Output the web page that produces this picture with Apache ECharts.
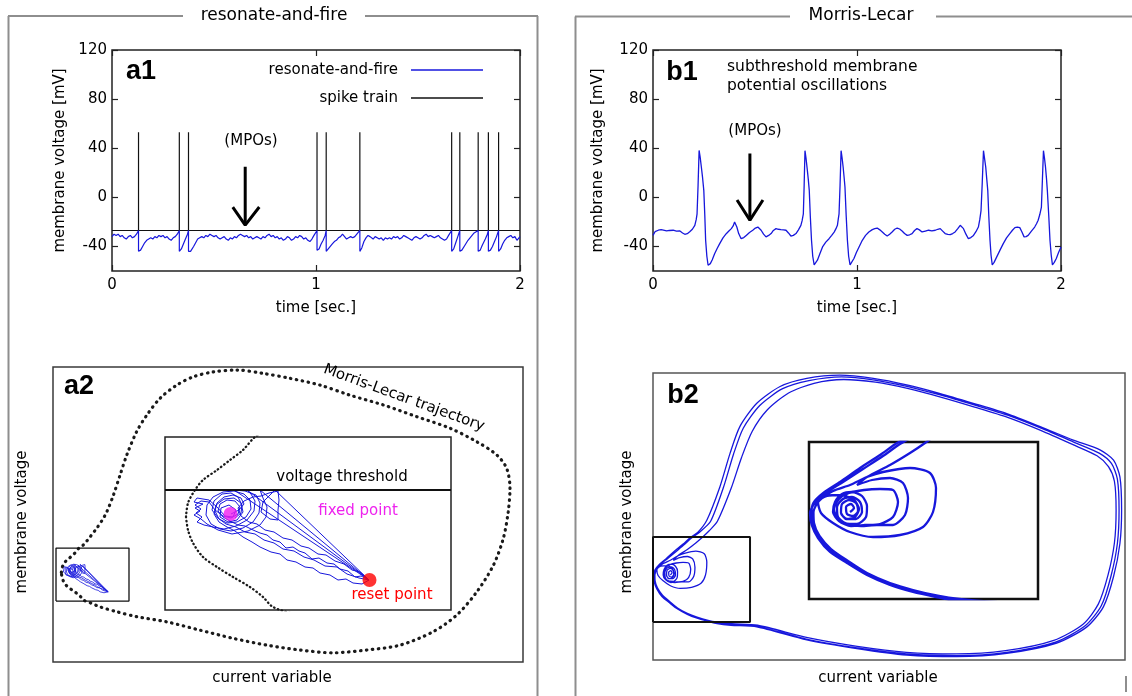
<!DOCTYPE html>
<html>
<head>
<meta charset="utf-8">
<script src="https://cdn.jsdelivr.net/npm/echarts@6/dist/echarts.min.js"></script>
<style>
  html, body { margin: 0; padding: 0; background: #fff; }
  #chart { width: 1132px; height: 696px; }
</style>
</head>
<body>
<div id="chart"></div>
<script>
// ---------- a1: resonate-and-fire voltage and its spike train ----------
const timeTicks = [0, 1, 2];
const voltTicks = [-40, 0, 40, 80, 120];
const spikeTimes = [0.13, 0.33, 0.375, 1.005, 1.05, 1.215, 1.665, 1.705, 1.795, 1.845, 1.895];
const spikeBase = -27;
const spikePeak = 53;
const rfVoltage = [
  [0.00,-32],[0.01,-30],[0.02,-31],[0.03,-30],[0.04,-32],[0.05,-31],[0.06,-33],[0.07,-34],[0.08,-32],[0.09,-31],[0.10,-33],[0.11,-32],[0.12,-30],[0.13,-27],
  [0.13,-44],[0.14,-43],[0.15,-40],[0.16,-37],[0.17,-35],[0.18,-34],[0.19,-33],[0.20,-34],[0.21,-32],[0.22,-33],[0.23,-31],[0.24,-32],[0.25,-31],[0.26,-33],[0.27,-32],[0.28,-34],[0.29,-35],[0.30,-33],[0.31,-32],[0.32,-30],[0.33,-27],
  [0.33,-44],[0.34,-42],[0.35,-38],[0.36,-34],[0.37,-30],[0.375,-27],
  [0.375,-44],[0.385,-44],[0.40,-40],[0.41,-37],[0.42,-34],[0.43,-33],[0.44,-32],[0.45,-33],[0.46,-31],[0.47,-32],[0.48,-30],[0.49,-31],[0.50,-32],[0.51,-31],[0.52,-33],[0.53,-34],[0.54,-33],[0.55,-32],[0.56,-34],[0.57,-35],[0.58,-33],[0.59,-34],[0.60,-32],[0.61,-33],[0.62,-31],[0.63,-30],[0.64,-31],[0.65,-32],[0.66,-31],[0.67,-33],[0.68,-32],[0.69,-34],[0.70,-33],[0.71,-32],[0.72,-33],[0.73,-34],[0.74,-32],[0.75,-33],[0.76,-31],[0.77,-30],[0.78,-32],[0.79,-31],[0.80,-33],[0.81,-32],[0.82,-34],[0.83,-33],[0.84,-35],[0.85,-34],[0.86,-32],[0.87,-33],[0.88,-35],[0.89,-34],[0.90,-32],[0.91,-33],[0.92,-31],[0.93,-32],[0.94,-34],[0.95,-33],[0.96,-35],[0.97,-36],[0.98,-34],[0.99,-31],[1.005,-27],
  [1.005,-43],[1.015,-42],[1.025,-38],[1.035,-35],[1.045,-31],[1.05,-27],
  [1.05,-44],[1.06,-42],[1.07,-40],[1.08,-38],[1.09,-36],[1.10,-35],[1.11,-33],[1.12,-32],[1.13,-30],[1.14,-32],[1.15,-34],[1.16,-33],[1.17,-32],[1.18,-33],[1.19,-32],[1.20,-30],[1.215,-27],
  [1.215,-44],[1.225,-41],[1.235,-36],[1.245,-33],[1.255,-31],[1.265,-32],[1.28,-34],[1.29,-32],[1.30,-33],[1.31,-34],[1.32,-33],[1.33,-35],[1.34,-33],[1.35,-34],[1.36,-33],[1.37,-34],[1.38,-32],[1.39,-33],[1.40,-32],[1.41,-34],[1.42,-33],[1.43,-31],[1.44,-32],[1.45,-33],[1.46,-34],[1.47,-35],[1.48,-33],[1.49,-32],[1.50,-33],[1.51,-34],[1.52,-33],[1.53,-31],[1.54,-30],[1.55,-32],[1.56,-31],[1.57,-32],[1.58,-33],[1.59,-32],[1.60,-31],[1.61,-33],[1.62,-34],[1.63,-35],[1.64,-34],[1.65,-31],[1.665,-27],
  [1.665,-44],[1.675,-42],[1.685,-37],[1.695,-32],[1.705,-27],
  [1.705,-44],[1.715,-43],[1.73,-39],[1.745,-35],[1.76,-32],[1.775,-29],[1.785,-28],[1.795,-27],
  [1.795,-44],[1.805,-43],[1.815,-39],[1.83,-34],[1.84,-30],[1.845,-27],
  [1.845,-44],[1.855,-43],[1.865,-40],[1.875,-36],[1.885,-32],[1.895,-27],
  [1.895,-44],[1.905,-42],[1.915,-38],[1.925,-35],[1.935,-33],[1.945,-32],[1.955,-31],[1.965,-33],[1.975,-32],[1.985,-35],[1.995,-33],[2.0,-32]
];

// ---------- b1: Morris-Lecar voltage ----------
const mlVoltage = [
  [0.0,-31],[0.01,-28],[0.026,-26.8],[0.04,-26.3],[0.067,-27.4],[0.08,-27],[0.099,-26.8],[0.115,-27.5],[0.132,-27.4],[0.145,-29],[0.156,-30.1],[0.168,-29.6],[0.18,-28],[0.193,-26],[0.205,-22.8],[0.212,-18],[0.216,-13.4],[0.221,10],[0.226,38.2],[0.231,33],[0.237,24.7],[0.243,16],[0.249,5.7],[0.254,-15],[0.258,-35],[0.264,-48],[0.27,-55.3],[0.275,-55.5],[0.281,-54],[0.29,-51],[0.302,-46],[0.315,-41.5],[0.327,-37.7],[0.343,-33],[0.359,-29.6],[0.372,-27.4],[0.384,-25.5],[0.393,-23.3],[0.4,-20.1],[0.405,-21],[0.411,-24.2],[0.42,-29.5],[0.432,-33.7],[0.445,-32.8],[0.457,-31],[0.473,-28.6],[0.489,-26.8],[0.502,-25],[0.514,-24.2],[0.522,-25],[0.53,-26.8],[0.542,-30],[0.554,-32.2],[0.567,-31],[0.579,-29.5],[0.59,-27],[0.603,-25.5],[0.615,-26],[0.627,-26.3],[0.64,-26.5],[0.652,-26.8],[0.664,-29],[0.676,-31.5],[0.688,-31],[0.701,-29.5],[0.713,-26.5],[0.725,-22.8],[0.731,-19],[0.737,-13.4],[0.741,10],[0.745,38],[0.75,32],[0.756,23],[0.761,15],[0.766,5.7],[0.771,-15],[0.777,-35],[0.783,-48],[0.79,-55],[0.797,-54.5],[0.806,-51.2],[0.818,-46],[0.831,-40.4],[0.847,-36.5],[0.863,-33.7],[0.876,-31],[0.888,-28.3],[0.897,-25.5],[0.904,-22.8],[0.908,-18],[0.912,-13.4],[0.917,10],[0.922,38],[0.927,32],[0.932,24.7],[0.937,16],[0.941,8.4],[0.947,-15],[0.953,-35],[0.959,-48],[0.966,-55],[0.974,-53.5],[0.985,-49.8],[0.997,-45],[1.01,-40.4],[1.026,-35],[1.042,-31],[1.058,-28.3],[1.075,-26.3],[1.087,-25.5],[1.099,-25],[1.112,-26.5],[1.124,-28.2],[1.136,-30],[1.148,-31.5],[1.16,-30],[1.172,-28.2],[1.185,-26],[1.197,-25],[1.209,-25.8],[1.221,-27.4],[1.233,-29.5],[1.246,-31],[1.258,-30.5],[1.27,-29.5],[1.282,-27],[1.294,-25.5],[1.306,-26.5],[1.319,-28.2],[1.335,-27.5],[1.351,-26.8],[1.367,-27.3],[1.384,-26.8],[1.396,-26],[1.408,-25.5],[1.42,-27.5],[1.432,-29.5],[1.445,-30.2],[1.457,-30.4],[1.469,-29.5],[1.481,-28.2],[1.494,-25.5],[1.506,-22.8],[1.514,-23.5],[1.522,-25.5],[1.534,-30],[1.546,-33.7],[1.558,-32.8],[1.571,-31],[1.583,-28],[1.595,-24.2],[1.602,-18],[1.608,-10.8],[1.614,12],[1.62,38],[1.625,32],[1.631,24.7],[1.636,15],[1.641,5.7],[1.646,-15],[1.652,-35],[1.657,-47],[1.663,-55],[1.672,-53],[1.685,-48.5],[1.701,-43],[1.717,-37.7],[1.733,-33],[1.749,-29.5],[1.762,-26.8],[1.774,-24.7],[1.786,-24.2],[1.798,-24.7],[1.808,-28],[1.819,-32.2],[1.829,-32],[1.839,-31],[1.855,-27.5],[1.871,-24.2],[1.88,-21.5],[1.888,-18.7],[1.896,-14],[1.904,-7.9],[1.909,15],[1.914,38],[1.919,32],[1.924,24.7],[1.929,15],[1.933,5.7],[1.94,-15],[1.946,-35],[1.952,-47],[1.958,-55],[1.967,-53],[1.977,-49.8],[1.988,-45],[2.0,-40.4]
];

// ---------- a2: phase plane (current variable, membrane voltage), arbitrary units ----------
const a2WinX = [0, 28.6];
const a2WinY = [0, 17.3];
const a2RangeX = [-1.18, 183.0];
const a2RangeY = [-19.9, 76.4];
const mlOrbit = [
  [2.1,9.3],[2.3,10.7],[3.0,12.0],[3.8,13.0],[5.2,14.0],[6.5,15.0],[7.8,16.0],[9.0,17.3],[10.7,18.3],[13.4,21.0],[15.9,23.7],[18.1,26.4],[19.9,29.1],[22.5,34.6],[25.1,41.1],[27.7,47.6],[31.6,55.3],[35.6,60.7],[40.8,66.2],[47.3,70.5],[53.8,73.2],[61.6,74.8],[70.8,75.4],[81.2,74.3],[91.7,72.7],[103.4,70.5],[115.2,67.2],[128.3,64.0],[141.3,60.2],[154.4,56.4],[164.9,52.0],[172.7,47.7],[176.6,43.3],[177.9,36.8],[177.2,29.1],[175.3,20.5],[171.4,11.7],[164.9,3.0],[157.0,-4.6],[147.8,-10.0],[134.8,-14.4],[121.7,-16.0],[108.7,-16.9],[95.6,-16.0],[82.6,-14.4],[69.5,-12.2],[56.4,-9.5],[43.4,-6.8],[31.6,-5.1],[23.8,-3.5],[17.2,-1.9],[13.5,-0.6],[10.8,0.3],[9.8,1.3],[8.5,2.3],[6.8,3.3],[5.2,4.3],[3.8,5.3],[2.8,6.7],[2.3,8.0],[2.1,9.3]
];
const rfOrbit = [
  [6.6,9.6],[7.4,10.0],[7.9,10.6],[7.6,11.2],[6.8,11.5],[5.9,11.3],[5.2,10.7],[5.0,9.9],[5.4,9.1],[6.2,8.7],[7.2,8.8],[8.1,9.3],[8.6,10.1],[8.5,11.0],[7.9,11.6],[6.9,11.9],[5.8,11.8],[4.8,11.3],[4.2,10.5],[4.1,9.5],[4.6,8.6],[5.5,8.1],[6.6,7.9],[7.8,8.2],[8.8,8.8],[9.4,9.7],[9.5,10.7],[9.1,11.5],[8.0,11.9],[6.9,12.0],
  [20.4,3.0],[19.6,3.4],[19.0,3.3],[18.3,3.9],[17.5,4.1],[16.9,4.6],[16.2,4.7],[15.4,5.2],[14.7,5.1],[14.0,5.7],[13.4,5.9],[12.8,6.3],[12.1,6.2],[11.5,6.8],[10.8,7.0],[10.2,7.5],[9.5,7.7],[8.8,8.0],[8.0,8.4],[7.3,8.5],[6.5,8.9],[5.8,9.3],[5.3,9.9],[5.5,10.6],[6.2,11.0],[7.0,10.9],[7.5,10.3],[7.3,9.6],[6.6,9.2],[5.8,9.4],[5.0,10.0],[4.4,10.8],[3.6,10.9],[3.0,10.5],[3.6,10.1],[3.1,9.7],[3.7,9.3],[3.2,8.8],[3.9,8.5],[4.8,8.3],[5.9,8.1],[7.1,8.4],[8.2,9.0],[8.9,9.9],[9.0,10.9],[8.6,11.6],[8.2,12.0],
  [20.4,3.0],[19.7,2.6],[18.8,2.7],[18.1,3.1],[17.3,3.0],[16.5,3.5],[15.5,3.7],[14.8,4.2],[14.0,4.3],[13.1,4.8],[12.2,5.0],[11.5,5.6],[10.6,5.8],[9.5,6.3],[8.7,6.8],[7.8,7.3],[7.0,7.9],[6.2,8.3],[5.4,8.8],[4.9,9.6],[5.1,10.5],[5.9,11.1],[6.9,11.2],[7.6,10.7],[7.8,9.8],[7.2,9.0],[6.3,8.8],[5.5,9.3],[5.6,10.2],[6.4,10.5],[7.1,10.0],[6.8,9.3],[6.0,9.4],[5.2,10.3],[4.4,11.0],[3.2,11.2],[2.9,10.8],[3.8,10.6],[3.0,10.2],[3.5,9.9],[2.9,9.5],[3.6,9.1],[4.2,8.6],[5.3,8.0],[6.7,7.6],[8.3,7.9],[9.5,8.5],[10.1,9.3],[10.2,10.3],[9.8,11.2],[9.5,12.0],
  [20.4,3.0],[19.5,3.8],[18.7,4.0],[17.9,4.6],[17.0,4.9],[16.1,5.5],[15.3,5.6],[14.4,6.2],[13.6,6.4],[12.7,7.0],[11.8,7.2],[10.9,7.8],[10.0,8.0],[9.2,8.6],[8.4,8.8],[7.6,9.4],[7.3,10.2],[7.9,10.9],[8.8,11.3],[9.6,11.4],[10.4,11.7],[11.3,11.9],[11.4,11.0],[11.3,10.0],[11.3,9.0],[10.5,9.1],[9.6,9.8],[9.8,10.8],[10.5,11.5],[11.0,12.0],
  [20.4,3.0],[19.4,3.2],[18.2,3.6],[17.2,4.3],[16.0,4.4],[14.9,5.0],[13.9,5.3],[12.9,5.9],[11.8,6.1],[10.9,6.7],[9.9,7.0],[9.0,7.6],[8.0,7.8],[7.1,8.3],[6.1,8.6],[5.3,9.2],[4.7,10.0],[4.9,10.9],[5.7,11.6],[6.6,11.7],[7.3,11.3],[7.7,10.5],[7.6,9.7],[7.0,9.2]
];
const rfThreshold = 12.0;
const rfFixedPoint = [6.55, 9.6];
const rfResetPoint = [20.45, 3.0];

// ---------- b2: Morris-Lecar phase plane, arbitrary units ----------
const b2WinX = [0, 22.9];
const b2WinY = [0, 15.7];
const b2RangeX = [0, 111.4];
const b2RangeY = [-7.02, 46.0];
const mlPhase = [
  [4.1,8.7],[4.5,9.1],[4.2,9.5],[3.7,9.2],[3.8,8.5],[4.4,8.3],[4.9,8.8],[4.7,9.6],[4.0,9.9],[3.3,9.5],[3.2,8.6],[3.8,8.0],[4.7,8.0],[5.3,8.7],[5.1,9.7],[4.3,10.2],[3.4,10.0],[2.8,9.2],[2.9,8.2],[3.6,7.6],[4.8,7.5],[5.7,8.2],[5.8,9.3],[5.3,10.3],[4.3,10.7],[3.3,10.5],[2.6,9.7],
  [2.4,8.7],[3.0,7.8],[4.2,7.3],[5.6,7.4],[7.1,7.5],[8.4,8.2],[8.9,9.7],[8.4,10.9],[7.1,11.0],[5.5,10.9],[4.0,10.6],[3.0,10.0],[2.5,9.0],[2.9,8.0],[4.2,7.4],[5.2,7.3],[6.8,7.4],[8.4,7.4],[9.6,8.4],[9.9,10.1],[9.4,11.6],[8.1,12.1],[6.3,11.9],[4.8,11.4],
  [5.8,12.2],[8.1,13.4],[10.1,14.6],[11.6,15.6],[13.2,16.8],[15.2,18.6],[18.4,24.6],[20.9,30.4],[23.4,35.2],[27.0,39.2],[32.0,42.3],[38.0,44.1],[45.0,44.8],[52.5,44.3],[60.3,43.1],[68.1,41.5],[75.9,39.7],[83.7,37.8],[91.5,35.4],[99.0,32.8],[104.8,30.7],[107.5,28.7],[108.9,26.0],[109.3,20.7],[108.9,14.6],[107.4,8.7],[105.1,3.3],[101.5,-0.4],[94.6,-3.4],[83.2,-5.3],[71.6,-5.9],[59.8,-5.6],[48.2,-4.5],[36.5,-2.9],[24.7,-0.6],[18.6,-0.3],[15.0,0.0],[13.0,0.3],[10.4,0.9],[8.1,1.6],[5.8,2.6],[3.9,3.8],[2.2,5.0],[1.05,6.3],[0.5,7.6],[0.45,8.7],
  [1.0,9.8],[2.4,10.8],[4.1,11.4],[5.8,12.2],[7.4,12.7],[10.1,13.1],[12.1,12.6],[12.7,11.1],[12.4,8.7],[11.4,7.2],[9.1,6.4],[6.4,6.2],[4.1,6.7],[2.4,7.6],[1.2,8.6],[0.9,9.7],
  [1.7,10.6],[3.4,11.7],[5.4,13.0],[7.4,14.3],[9.1,15.5],[11.0,16.6],[13.6,18.6],[16.6,24.8],[19.0,31.0],[21.3,35.8],[25.2,40.0],[30.6,43.1],[36.8,44.6],[44.5,45.3],[52.3,44.7],[60.2,43.5],[68.0,41.9],[75.8,40.1],[83.7,38.2],[91.6,35.8],[99.4,33.2],[105.3,31.2],[108.2,29.3],[109.6,26.4],[110.0,20.7],[109.6,14.5],[108.1,8.5],[105.8,3.0],[102.0,-0.7],[95.0,-3.7],[83.4,-5.6],[71.7,-6.2],[59.9,-5.9],[48.2,-4.8],[36.4,-3.2],[24.6,-0.8],[18.5,-0.4],[15.0,-0.1],[13.0,0.2],[10.4,0.85],[8.1,1.5],[5.8,2.5],[3.8,3.7],[2.1,4.9],[0.95,6.2],[0.35,7.5],[0.25,8.6],
  [0.43,9.6],[1.43,10.6],[3.1,11.7],[5.1,13.1],[7.1,14.4],[8.8,15.6],[10.6,16.6],[12.7,18.8],[15.8,25.0],[18.2,31.2],[20.5,36.1],[24.5,40.4],[30.0,43.5],[36.3,45.0],[44.1,45.6],[52.0,45.0],[59.9,43.8],[67.8,42.2],[75.6,40.4],[83.5,38.5],[91.4,36.1],[99.2,33.6],[105.5,31.8],[108.7,29.9],[110.2,26.8],[110.6,20.7],[110.2,14.5],[108.7,8.4],[106.3,2.8],[102.4,-0.9],[95.3,-3.9],[83.5,-5.8],[71.7,-6.4],[59.9,-6.1],[48.1,-4.9],[36.3,-3.3],[24.5,-0.9],[18.4,-0.6],[15.1,-0.3],[13.1,0.1],[10.4,0.7],[8.1,1.4],[5.8,2.4],[3.8,3.6],[2.1,4.7],[0.9,6.1],[0.27,7.4],[0.1,8.6],
  [0.6,9.6],[1.8,10.3],[3.2,10.4],[4.5,9.9],[5.0,9.0],[4.6,8.2],[3.7,8.0],[3.2,8.6]
];

// ---------- helpers ----------
const FONT = 'DejaVu Sans';
const BLUE = '#1717dc';
const INK = '#111';

const spikeTrain = [[timeTicks[0], spikeBase]];
spikeTimes.forEach(t => spikeTrain.push([t, spikeBase], [t, spikePeak], [t, spikeBase]));
spikeTrain.push([timeTicks[timeTicks.length - 1], spikeBase]);

const boxPath = (xs, ys) => [[xs[0], ys[0]], [xs[1], ys[0]], [xs[1], ys[1]], [xs[0], ys[1]], [xs[0], ys[0]]];

const tickStyle = { show: true, inside: true, length: 6, lineStyle: { color: '#222', width: 1.2 } };
const labelStyle = { fontSize: 15, color: '#000', fontFamily: FONT };

function timeAxis(grid, position, withLabels, name) {
  return {
    type: 'value', gridIndex: grid, position,
    min: timeTicks[0], max: timeTicks[timeTicks.length - 1], interval: 1,
    axisLine: { show: false, onZero: false }, splitLine: { show: false },
    axisTick: tickStyle,
    axisLabel: Object.assign({ show: withLabels, margin: 7 }, labelStyle),
    name: name || '', nameLocation: 'middle', nameGap: 30, nameMoveOverlap: false,
    nameTextStyle: labelStyle
  };
}
function voltAxis(grid, position, withLabels, name, gap) {
  return {
    type: 'value', gridIndex: grid, position, min: -60, max: 120,
    axisLine: { show: false, onZero: false }, splitLine: { show: false },
    axisTick: Object.assign({ customValues: voltTicks }, tickStyle),
    axisLabel: Object.assign({ show: withLabels, margin: 5, customValues: voltTicks }, labelStyle),
    name: name || '', nameLocation: 'middle', nameGap: gap || 0, nameRotate: 90, nameMoveOverlap: false,
    nameTextStyle: labelStyle
  };
}
function plainAxis(grid, range) {
  return {
    type: 'value', gridIndex: grid, min: range[0], max: range[1],
    axisLine: { show: false, onZero: false }, axisTick: { show: false }, axisLabel: { show: false }, splitLine: { show: false }
  };
}
function line(name, data, axis, color, width, extra) {
  return Object.assign({
    type: 'line', name, data, xAxisIndex: axis, yAxisIndex: axis,
    symbol: 'none', showSymbol: false, silent: true, animation: false,
    lineStyle: { color, width }, itemStyle: { color }
  }, extra || {});
}
function text(x, y, str, opts, rotation) {
  return {
    type: 'text', x, y, rotation: rotation || 0, z: 10, silent: true,
    style: Object.assign({ text: str, font: '15px "DejaVu Sans"', fill: '#000', textAlign: 'center', textVerticalAlign: 'middle' }, opts || {})
  };
}
function rule(x1, y1, x2, y2) {
  return { type: 'line', z: 10, silent: true, shape: { x1, y1, x2, y2 }, style: { stroke: '#8e8e8e', lineWidth: 2 } };
}
const letterFont = 'bold 27px "Liberation Sans"';

const option = {
  animation: false,
  backgroundColor: '#fff',
  textStyle: { fontFamily: FONT },
  legend: {
    data: [{ name: 'resonate-and-fire', icon: 'rect' }, { name: 'spike train', icon: 'rect' }],
    orient: 'vertical', align: 'right',
    right: 644, top: 56,
    itemWidth: 72, itemHeight: 1.3, itemGap: 10,
    textStyle: { fontSize: 15, color: '#000', fontFamily: FONT, padding: [0, 8, 0, 0], lineHeight: 18 },
    selectedMode: false
  },
  grid: [
    { left: 112, top: 50, width: 408, height: 221, show: true, borderColor: '#222', borderWidth: 1.5, outerBoundsMode: 'none' },
    { left: 653, top: 50, width: 408, height: 221, show: true, borderColor: '#222', borderWidth: 1.5, outerBoundsMode: 'none' },
    { left: 53, top: 367, width: 470, height: 295, show: true, borderColor: '#3a3a3a', borderWidth: 1.5, outerBoundsMode: 'none' },
    { left: 165, top: 437, width: 286, height: 173, show: true, borderColor: '#222', borderWidth: 1.5, backgroundColor: '#fff', z: 5, outerBoundsMode: 'none' },
    { left: 653, top: 373, width: 472, height: 287, show: true, borderColor: '#555', borderWidth: 1.5, outerBoundsMode: 'none' },
    { left: 809, top: 442, width: 229, height: 157, show: true, borderColor: INK, borderWidth: 2.5, backgroundColor: '#fff', z: 5, outerBoundsMode: 'none' }
  ],
  xAxis: [
    timeAxis(0, 'bottom', true, 'time [sec.]'),
    timeAxis(0, 'top', false),
    timeAxis(1, 'bottom', true, 'time [sec.]'),
    timeAxis(1, 'top', false),
    plainAxis(2, a2RangeX),
    plainAxis(3, a2WinX),
    plainAxis(4, b2RangeX),
    plainAxis(5, b2WinX)
  ],
  yAxis: [
    voltAxis(0, 'left', true, 'membrane voltage [mV]', 44),
    voltAxis(0, 'right', false),
    voltAxis(1, 'left', true, 'membrane voltage [mV]', 47),
    voltAxis(1, 'right', false),
    plainAxis(2, a2RangeY),
    plainAxis(3, a2WinY),
    plainAxis(4, b2RangeY),
    plainAxis(5, b2WinY)
  ],
  series: [
    // a1
    line('spike train', spikeTrain, 0, INK, 1.2),
    line('resonate-and-fire', rfVoltage, 0, BLUE, 1.2),
    line('', [[0.653, 24.9], [0.653, -22.6]], 0, '#000', 3),
    line('', [[0.592, -7.9], [0.653, -22.6], [0.722, -7.9]], 0, '#000', 3),
    // b1
    line('Morris-Lecar', mlVoltage, 1, BLUE, 1.3, { xAxisIndex: 2, yAxisIndex: 2 }),
    line('', [[0.475, 35.8], [0.475, -18.6]], 1, '#000', 3, { xAxisIndex: 2, yAxisIndex: 2 }),
    line('', [[0.412, -2.2], [0.475, -18.6], [0.539, -2.2]], 1, '#000', 3, { xAxisIndex: 2, yAxisIndex: 2 }),
    // a2 overview
    line('', mlOrbit, 4, '#1a1a1a', 3.2, { smooth: 0.3, lineStyle: { color: '#1a1a1a', width: 3.2, type: [0.5, 5.5], cap: 'round' } }),
    line('', rfOrbit, 4, BLUE, 0.8),
    line('', boxPath(a2WinX, a2WinY), 4, INK, 1.3, { clip: false }),
    // a2 magnified window
    line('', mlOrbit, 5, '#1a1a1a', 2.3, { z: 6, smooth: 0.3, lineStyle: { color: '#1a1a1a', width: 2.3, type: [0.5, 3.5], cap: 'round' } }),
    line('', rfOrbit, 5, BLUE, 1.0, { z: 6 }),
    line('', [[a2WinX[0], rfThreshold], [a2WinX[1], rfThreshold]], 5, INK, 1.8, { z: 6 }),
    { type: 'scatter', data: [rfFixedPoint], xAxisIndex: 5, yAxisIndex: 5, symbolSize: 14, itemStyle: { color: '#f01ef0' }, z: 7, silent: true, animation: false },
    { type: 'scatter', data: [rfResetPoint], xAxisIndex: 5, yAxisIndex: 5, symbolSize: 14, itemStyle: { color: '#ff0000' }, z: 7, silent: true, animation: false },
    // b2 overview
    line('', mlPhase, 6, BLUE, 1.3, { smooth: 0.25 }),
    line('', boxPath(b2WinX, b2WinY), 6, INK, 2, { clip: false }),
    // b2 magnified window
    line('', mlPhase, 7, BLUE, 2.3, { z: 6, smooth: 0.25 })
  ],
  graphic: [
    // panel frames
    rule(8.5, 16, 8.5, 696), rule(537.5, 16, 537.5, 696), rule(8, 16, 183, 16), rule(365, 16, 538, 16),
    rule(575.5, 16.5, 575.5, 696), rule(575, 16.5, 790, 16.5), rule(936, 16.5, 1132, 16.5),
    rule(1126, 676, 1126, 692),
    text(274, 16, 'resonate-and-fire', { font: '17px "DejaVu Sans"' }),
    text(861, 16, 'Morris-Lecar', { font: '17px "DejaVu Sans"' }),
    // panel letters
    text(141, 72, 'a1', { font: letterFont }),
    text(682, 73, 'b1', { font: letterFont }),
    text(79, 387, 'a2', { font: letterFont }),
    text(683, 396, 'b2', { font: letterFont }),
    // annotations
    text(251, 141, '(MPOs)'),
    text(755, 131, '(MPOs)'),
    text(727, 57, 'subthreshold membrane\npotential oscillations', { font: '15.5px "DejaVu Sans"', textAlign: 'left', textVerticalAlign: 'top', lineHeight: 19 }),
    text(342, 477, 'voltage threshold'),
    text(358, 511, 'fixed point', { fill: '#ee22ee' }),
    text(392, 595, 'reset point', { fill: '#ff0000' }),
    text(404, 398, 'Morris-Lecar trajectory', null, -20 * Math.PI / 180),
    text(272, 678, 'current variable'),
    text(878, 678, 'current variable'),
    text(22, 522, 'membrane voltage', null, Math.PI / 2),
    text(627, 522, 'membrane voltage', null, Math.PI / 2)
  ]
};

const chart = echarts.init(document.getElementById('chart'));
chart.setOption(option);
</script>
</body>
</html>
